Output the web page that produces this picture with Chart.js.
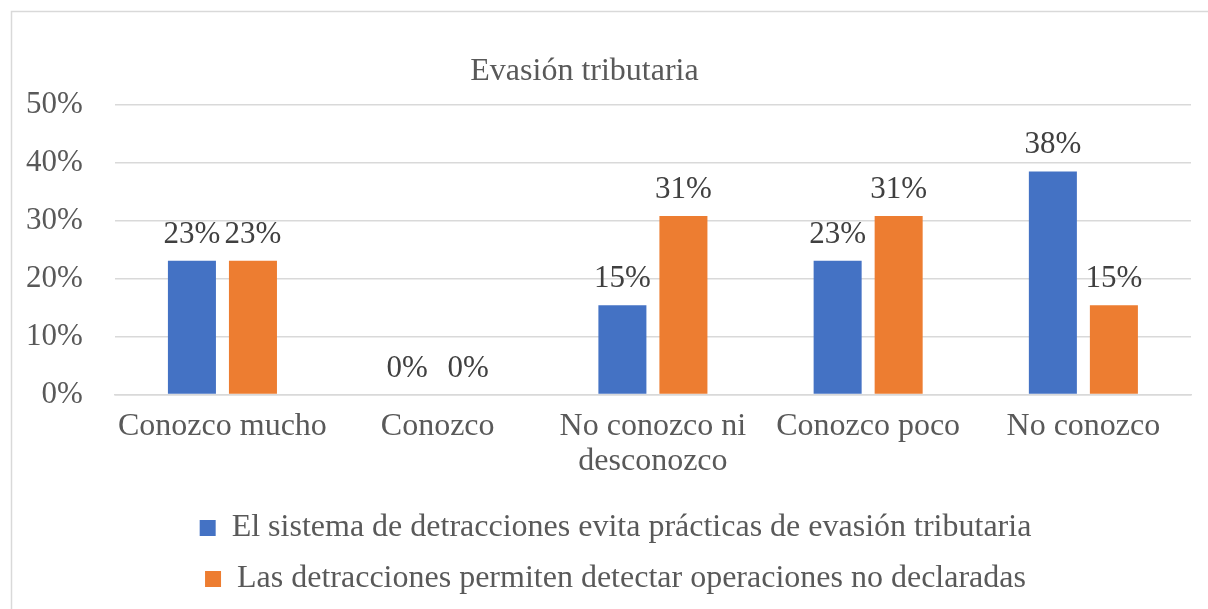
<!DOCTYPE html>
<html>
<head>
<meta charset="utf-8">
<script src="https://cdn.jsdelivr.net/npm/chart.js@4.4.1/dist/chart.umd.min.js"></script>
<style>
html,body{margin:0;padding:0;background:#fff;}
#wrap{width:1208px;height:609px;position:relative;}
</style>
</head>
<body>
<div id="wrap"><canvas id="c" width="1208" height="609"></canvas></div>
<script>
const categories = ['Conozco mucho', 'Conozco', ['No conozco ni', 'desconozco'], 'Conozco poco', 'No conozco'];
const seriesNames = [
  'El sistema de detracciones evita prácticas de evasión tributaria',
  'Las detracciones permiten detectar operaciones no declaradas'
];
const seriesA = [23.08, 0, 15.38, 23.08, 38.46];
const seriesB = [23.08, 0, 30.77, 30.77, 15.38];
const yTicks = [0, 10, 20, 30, 40, 50];
const titleText = 'Evasión tributaria';

const FONT = "'Liberation Serif', 'Times New Roman', serif";

const borderPlugin = {
  id: 'outerBorder',
  beforeDraw(chart) {
    const ctx = chart.ctx;
    ctx.save();
    ctx.strokeStyle = '#d9d9d9';
    ctx.lineWidth = 1.5;
    ctx.beginPath();
    ctx.moveTo(11.5, chart.height + 5);
    ctx.lineTo(11.5, 11.5);
    ctx.lineTo(chart.width + 5, 11.5);
    ctx.stroke();
    ctx.restore();
  }
};

// nudge title and legend horizontally to match the reference placement
const nudgePlugin = {
  id: 'nudge',
  afterLayout(chart) {
    if (chart.titleBlock) { chart.titleBlock.left -= 8; chart.titleBlock.right -= 8; }
    if (chart.legend) { chart.legend.left += 46; }
  }
};

const labelPlugin = {
  id: 'valueLabels',
  afterDatasetsDraw(chart) {
    const ctx = chart.ctx;
    ctx.save();
    ctx.font = '31px ' + FONT;
    ctx.fillStyle = '#404040';
    ctx.textAlign = 'center';
    ctx.textBaseline = 'alphabetic';
    chart.data.datasets.forEach((ds, i) => {
      const meta = chart.getDatasetMeta(i);
      meta.data.forEach((bar, j) => {
        const v = ds.data[j];
        ctx.fillText(Math.round(v) + '%', bar.x, bar.y - 18);
      });
    });
    ctx.restore();
  }
};

new Chart(document.getElementById('c'), {
  type: 'bar',
  data: {
    labels: categories,
    datasets: [
      { label: seriesNames[0], data: seriesA, backgroundColor: '#4472C4', categoryPercentage: 0.567, barPercentage: 0.787 },
      { label: seriesNames[1], data: seriesB, backgroundColor: '#ED7D31', categoryPercentage: 0.567, barPercentage: 0.787 }
    ]
  },
  options: {
    responsive: false,
    animation: false,
    devicePixelRatio: 1,
    layout: { padding: { top: 52, left: -6, right: 17, bottom: 4 } },
    plugins: {
      title: {
        display: true,
        text: titleText,
        color: '#595959',
        font: { family: FONT, size: 32, weight: 'normal' },
        padding: { top: 0, bottom: 14 }
      },
      legend: {
        position: 'bottom',
        labels: {
          color: '#595959',
          font: { family: FONT, size: 32 },
          boxWidth: 16,
          boxHeight: 16,
          padding: 19
        }
      },
      tooltip: { enabled: false }
    },
    scales: {
      x: {
        grid: { display: false, drawTicks: false },
        border: { display: true, color: '#d9d9d9', width: 1.5 },
        ticks: { color: '#595959', font: { family: FONT, size: 32, lineHeight: 1.1 }, padding: 14, maxRotation: 0, autoSkip: false }
      },
      y: {
        min: 0,
        max: 50,
        afterBuildTicks(axis) { axis.ticks = yTicks.map(v => ({ value: v })); },
        grid: { color: '#d9d9d9', lineWidth: 1.5, drawTicks: false },
        border: { display: false },
        ticks: { color: '#595959', font: { family: FONT, size: 31 }, padding: 32, callback: v => v + '%' }
      }
    }
  },
  plugins: [borderPlugin, nudgePlugin, labelPlugin]
});
</script>
</body>
</html>
